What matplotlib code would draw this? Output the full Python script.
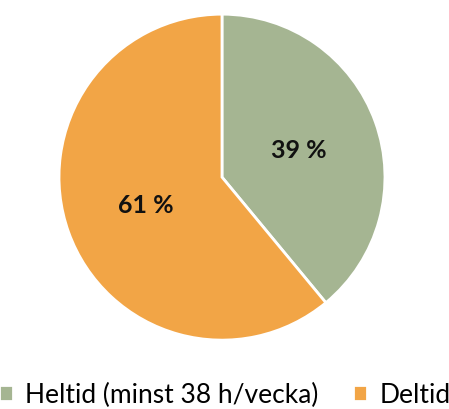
import matplotlib.pyplot as plt

# andel anställda efter arbetstid
labels = ['Heltid (minst 38 h/vecka)', 'Deltid']
values = [39, 61]
colors = ['#A5B592', '#F2A546']

plt.rcParams['font.family'] = ['Lato', 'DejaVu Sans']

fig = plt.figure(figsize=(4.49, 4.10), dpi=100)
ax = fig.add_axes([0.1314, 0.168, 0.726, 0.795])

wedges, texts, autotexts = ax.pie(
    values, colors=colors, startangle=90, counterclock=False,
    autopct=lambda p: f'{p:.0f} %', pctdistance=0.5,
    wedgeprops=dict(edgecolor='white', linewidth=2),
    textprops=dict(fontsize=18, fontweight='bold', color='#111111'))
ax.set_xlim(-1, 1)
ax.set_ylim(-1, 1)
ax.set_aspect('equal')

fig.legend(wedges, labels, loc='center', bbox_to_anchor=(0.5, 0.035),
           ncol=2, frameon=False, fontsize=19, handlelength=0.55,
           handleheight=0.55, handletextpad=0.45, columnspacing=1.3)

fig.savefig('out.png', dpi=100)
